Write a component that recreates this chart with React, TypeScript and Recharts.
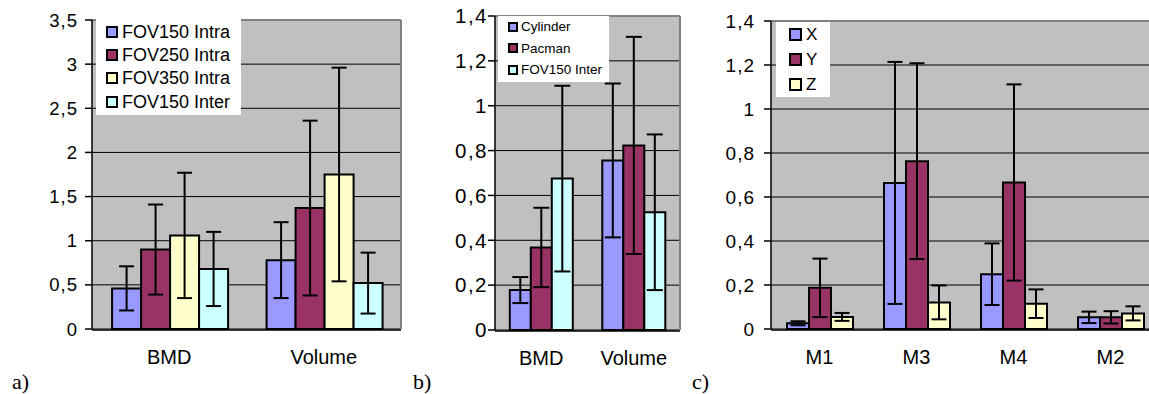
import React from 'react';
import { BarChart, Bar, XAxis, YAxis, CartesianGrid, Legend, ErrorBar } from 'recharts';

// panel a) – intra / inter observer
const catsA = ['BMD', 'Volume'];
const fov150IntraA = [0.46, 0.78];
const fov150IntraErrA = [0.25, 0.43];
const fov250IntraA = [0.9, 1.37];
const fov250IntraErrA = [0.51, 0.99];
const fov350IntraA = [1.06, 1.75];
const fov350IntraErrA = [0.71, 1.21];
const fov150InterA = [0.68, 0.52];
const fov150InterErrA = [0.42, 0.345];
const ticksA = [0, 0.5, 1, 1.5, 2, 2.5, 3, 3.5];

// panel b) – phantoms
const catsB = ['BMD', 'Volume'];
const cylinderB = [0.178, 0.756];
const cylinderErrB = [0.058, 0.343];
const pacmanB = [0.368, 0.823];
const pacmanErrB = [0.177, 0.484];
const fov150InterB = [0.675, 0.525];
const fov150InterErrB = [0.414, 0.347];
const ticksB = [0, 0.2, 0.4, 0.6, 0.8, 1, 1.2, 1.4];

// panel c) – directions
const catsC = ['M1', 'M3', 'M4', 'M2'];
const xC = [0.026, 0.664, 0.249, 0.053];
const xErrC = [0.009, 0.55, 0.14, 0.026];
const yC = [0.187, 0.763, 0.666, 0.053];
const yErrC = [0.133, 0.445, 0.446, 0.028];
const zC = [0.055, 0.121, 0.115, 0.071];
const zErrC = [0.018, 0.077, 0.065, 0.032];
const ticksC = [0, 0.2, 0.4, 0.6, 0.8, 1, 1.2, 1.4];

const BLUE = '#9999FF';
const PLUM = '#993366';
const CREAM = '#FFFFCC';
const AQUA = '#CCFFFF';
const FONT = '"Liberation Sans", Arial, sans-serif';

type Series = { key: string; name: string; color: string; values: number[]; errs: number[] };

const buildRows = (cats: string[], series: Series[]) =>
  cats.map((name, i) => {
    const row: any = { name };
    series.forEach((s) => {
      row[s.key] = s.values[i];
      row[s.key + 'Err'] = s.errs[i];
    });
    return row;
  });

const seriesA: Series[] = [
  { key: 's1', name: 'FOV150 Intra', color: BLUE, values: fov150IntraA, errs: fov150IntraErrA },
  { key: 's2', name: 'FOV250 Intra', color: PLUM, values: fov250IntraA, errs: fov250IntraErrA },
  { key: 's3', name: 'FOV350 Intra', color: CREAM, values: fov350IntraA, errs: fov350IntraErrA },
  { key: 's4', name: 'FOV150 Inter', color: AQUA, values: fov150InterA, errs: fov150InterErrA },
];
const seriesB: Series[] = [
  { key: 's1', name: 'Cylinder', color: BLUE, values: cylinderB, errs: cylinderErrB },
  { key: 's2', name: 'Pacman', color: PLUM, values: pacmanB, errs: pacmanErrB },
  { key: 's3', name: 'FOV150 Inter', color: AQUA, values: fov150InterB, errs: fov150InterErrB },
];
const seriesC: Series[] = [
  { key: 's1', name: 'X', color: BLUE, values: xC, errs: xErrC },
  { key: 's2', name: 'Y', color: PLUM, values: yC, errs: yErrC },
  { key: 's3', name: 'Z', color: CREAM, values: zC, errs: zErrC },
];

type LegendCfg = { x: number; y: number; w: number; h: number; pad: number; row: number; sw: number; swX: number; gap: number; fs: number };

type PanelProps = {
  left: number;
  width: number;
  margin: { top: number; right: number; bottom: number; left: number };
  yWidth: number;
  cats: string[];
  series: Series[];
  ticks: number[];
  gap: string;
  capW: number;
  tickFs: number;
  tickMargin: number;
  tickSpacing: number;
  catFs: number;
  legend: LegendCfg;
  rightBorder: boolean;
};

const Panel = (p: PanelProps) => {
  const data = buildRows(p.cats, p.series);
  const edges = p.cats.map((_, i) => i).concat([p.cats.length]);
  const lg = p.legend;
  // legend keeps the series order (recharts would sort by name)
  const renderLegend = () => (
    <div style={{ background: '#fff', width: lg.w, height: lg.h, boxSizing: 'border-box', paddingTop: lg.pad }}>
      {p.series.map((s) => (
        <div key={s.key} style={{ height: lg.row, display: 'flex', alignItems: 'center' }}>
          <span
            style={{
              display: 'inline-block',
              width: lg.sw,
              height: lg.sw,
              boxSizing: 'border-box',
              border: '2px solid #000',
              background: s.color,
              marginLeft: lg.swX,
            }}
          />
          <span style={{ marginLeft: lg.gap, fontSize: lg.fs, fontFamily: FONT, color: '#000', lineHeight: 1 }}>{s.name}</span>
        </div>
      ))}
    </div>
  );

  return (
    <div style={{ position: 'absolute', left: p.left, top: 0 }}>
      <BarChart width={p.width} height={394} data={data} margin={p.margin} barGap={0} barCategoryGap={p.gap}>
        <CartesianGrid vertical={false} stroke="#000" fill="#C0C0C0" fillOpacity={1} />
        <XAxis
          xAxisId="edges"
          type="number"
          domain={[0, p.cats.length]}
          ticks={edges}
          allowDataOverflow
          height={1}
          tick={false}
          tickSize={7}
          tickLine={{ stroke: '#000', strokeWidth: 1.5 }}
          axisLine={{ stroke: '#000', strokeWidth: 1.5 }}
        />
        <XAxis
          dataKey="name"
          height={1}
          axisLine={false}
          tickLine={false}
          tickSize={0}
          tickMargin={21}
          interval={0}
          tick={{ fill: '#000', fontSize: p.catFs, fontFamily: FONT }}
        />
        <XAxis
          xAxisId="top"
          dataKey="name"
          orientation="top"
          height={1}
          tick={false}
          tickLine={false}
          axisLine={{ stroke: '#808080', strokeWidth: 2 }}
        />
        <YAxis
          width={p.yWidth}
          domain={[0, p.ticks[p.ticks.length - 1]]}
          ticks={p.ticks}
          interval={0}
          tickSize={7}
          tickMargin={p.tickMargin}
          axisLine={{ stroke: '#000', strokeWidth: 1.5 }}
          tickLine={{ stroke: '#000', strokeWidth: 1.5 }}
          tickFormatter={(v: number) => String(v).replace('.', ',')}
          tick={{ fill: '#000', fontSize: p.tickFs, fontFamily: FONT, letterSpacing: p.tickSpacing }}
        />
        {p.rightBorder && (
          <YAxis
            yAxisId="right"
            orientation="right"
            width={1}
            domain={[0, 1]}
            tick={false}
            tickLine={false}
            axisLine={{ stroke: '#808080', strokeWidth: 2 }}
          />
        )}
        <Legend
          layout="vertical"
          align="center"
          verticalAlign="middle"
          wrapperStyle={{ left: lg.x, top: lg.y, width: lg.w, height: lg.h }}
          content={renderLegend}
        />
        {p.series.map((s) => (
          <Bar key={s.key} dataKey={s.key} name={s.name} fill={s.color} stroke="#000" strokeWidth={2} isAnimationActive={false}>
            <ErrorBar dataKey={s.key + 'Err'} width={p.capW} stroke="#000" strokeWidth={2} direction="y" isAnimationActive={false} />
          </Bar>
        ))}
      </BarChart>
    </div>
  );
};

const labelStyle: React.CSSProperties = {
  position: 'absolute',
  top: 371,
  fontFamily: '"Liberation Serif", "Times New Roman", serif',
  fontSize: 22,
  lineHeight: '22px',
  color: '#000',
};

export default function App() {
  return (
    <div style={{ position: 'absolute', left: 0, top: 0, width: 1149, height: 394, overflow: 'hidden', background: '#fff' }}>
      <Panel
        left={0}
        width={405}
        margin={{ top: 19, right: 3, bottom: 63, left: 0 }}
        yWidth={92}
        cats={catsA}
        series={seriesA}
        ticks={ticksA}
        gap="13%"
        capW={7.5}
        tickFs={18.5}
        tickMargin={7}
        tickSpacing={1}
        catFs={20}
        legend={{ x: 96, y: 18, w: 145, h: 97, pad: 2, row: 23.3, sw: 12, swX: 10, gap: 4, fs: 18 }}
        rightBorder
      />
      <Panel
        left={403}
        width={281}
        margin={{ top: 15, right: 3, bottom: 62, left: 0 }}
        yWidth={92}
        cats={catsB}
        series={seriesB}
        ticks={ticksB}
        gap="16%"
        capW={8}
        tickFs={20.5}
        tickMargin={0}
        tickSpacing={1.5}
        catFs={20}
        legend={{ x: 95, y: 16, w: 111, h: 66, pad: 0, row: 21.5, sw: 10, swX: 10, gap: 3, fs: 13.5 }}
        rightBorder
      />
      <Panel
        left={686}
        width={475}
        margin={{ top: 20, right: 2, bottom: 63, left: 0 }}
        yWidth={85}
        cats={catsC}
        series={seriesC}
        ticks={ticksC}
        gap="16.5%"
        capW={7.5}
        tickFs={19}
        tickMargin={9}
        tickSpacing={1}
        catFs={20}
        legend={{ x: 90, y: 22, w: 54, h: 75, pad: 0, row: 25, sw: 13, swX: 13, gap: 4, fs: 17 }}
        rightBorder={false}
      />
      <div style={{ ...labelStyle, left: 12 }}>a)</div>
      <div style={{ ...labelStyle, left: 413 }}>b)</div>
      <div style={{ ...labelStyle, left: 692 }}>c)</div>
    </div>
  );
}
